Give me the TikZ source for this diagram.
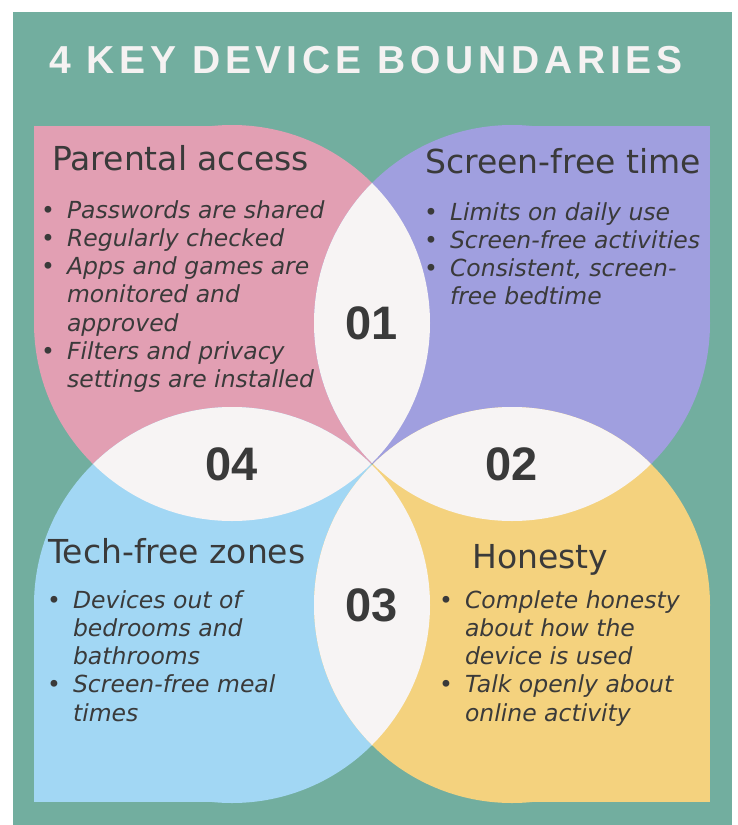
\documentclass[tikz,border=0pt]{standalone}
\usepackage{fontspec}
\setmainfont{DejaVu Sans}
\newfontfamily\titlefont[LetterSpace=12.4]{Liberation Sans}
\newfontfamily\numfont{Liberation Sans}

\definecolor{boardgreen}{HTML}{72AE9F}
\definecolor{accesspink}{HTML}{E29FB3}
\definecolor{screenpurple}{HTML}{A09FDF}
\definecolor{zoneblue}{HTML}{A2D7F4}
\definecolor{honestyellow}{HTML}{F4D27E}
\definecolor{lenswhite}{HTML}{F7F4F4}
\definecolor{inkgrey}{HTML}{3A3A3A}
\definecolor{titlewhite}{HTML}{F5F2F2}

\tikzset{
  heading/.style={anchor=base west, inner sep=0pt, text=inkgrey,
    font=\fontsize{33}{38}\selectfont},
  items/.style={anchor=north west, inner sep=0pt, text=inkgrey,
    font=\fontsize{23.5}{28.3}\selectfont\itshape},
  number/.style={inner sep=0pt, text=inkgrey,
    font=\numfont\bfseries\fontsize{47}{50}\selectfont},
}
\newcommand{\bul}{{\upshape\textbullet}}

\begin{document}
\begin{tikzpicture}[x=1pt,y=-1pt]
\useasboundingbox (0,0) rectangle (737,825);
\fill[white] (0,0) rectangle (737,825);
\fill[boardgreen] (13,12) rectangle (732,825);

% petals
\fill[accesspink] (232,323) circle (198);
\fill[accesspink] (34,126) rectangle (232,323);

\fill[screenpurple] (512,323) circle (198);
\fill[screenpurple] (512,126) rectangle (710,323);

\fill[zoneblue] (232,605) circle (198);
\fill[zoneblue] (34,605) rectangle (232,802);

\fill[honestyellow] (512,605) circle (198);
\fill[honestyellow] (512,605) rectangle (710,802);

% white lenses where petals overlap
\begin{scope}
\clip (232,323) circle (198);
\fill[lenswhite] (512,323) circle (198);
\fill[lenswhite] (232,605) circle (198);
\end{scope}
\begin{scope}
\clip (512,605) circle (198);
\fill[lenswhite] (512,323) circle (198);
\fill[lenswhite] (232,605) circle (198);
\end{scope}

% title
\node[anchor=base, inner sep=0pt, text=titlewhite,
  font=\titlefont\bfseries\fontsize{39}{41}\selectfont] (title) at (366,73)
  {4 KEY DEVICE BOUNDARIES};

% numbers
\node[number] (n01) at (372,323) {01};
\node[number] (n02) at (512,464) {02};
\node[number] (n03) at (372,605) {03};
\node[number] (n04) at (232,464) {04};

% parental access
\node[heading] (accesshead) at (52,170) {Parental access};
\node[items] (accesslist) at (41,198) {%
\begin{tabular}{@{}r@{\hspace{12pt}}l@{}}
\bul & Passwords are shared\\
\bul & Regularly checked\\
\bul & Apps and games are\\
     & monitored and\\
     & approved\\
\bul & Filters and privacy\\
     & settings are installed
\end{tabular}};

% screen-free time
\node[heading] (screenhead) at (425,173) {Screen-free time};
\node[items] (screenlist) at (424,200) {%
\begin{tabular}{@{}r@{\hspace{12pt}}l@{}}
\bul & Limits on daily use\\
\bul & Screen-free activities\\
\bul & Consistent, screen-\\
     & free bedtime
\end{tabular}};

% tech-free zones
\node[heading] (zonehead) at (48,563) {Tech-free zones};
\node[items] (zonelist) at (47,588) {%
\begin{tabular}{@{}r@{\hspace{12pt}}l@{}}
\bul & Devices out of\\
     & bedrooms and\\
     & bathrooms\\
\bul & Screen-free meal\\
     & times
\end{tabular}};

% honesty
\node[heading] (honesthead) at (472,568) {Honesty};
\node[items] (honestlist) at (439,588) {%
\begin{tabular}{@{}r@{\hspace{12pt}}l@{}}
\bul & Complete honesty\\
     & about how the\\
     & device is used\\
\bul & Talk openly about\\
     & online activity
\end{tabular}};

\end{tikzpicture}
\end{document}
